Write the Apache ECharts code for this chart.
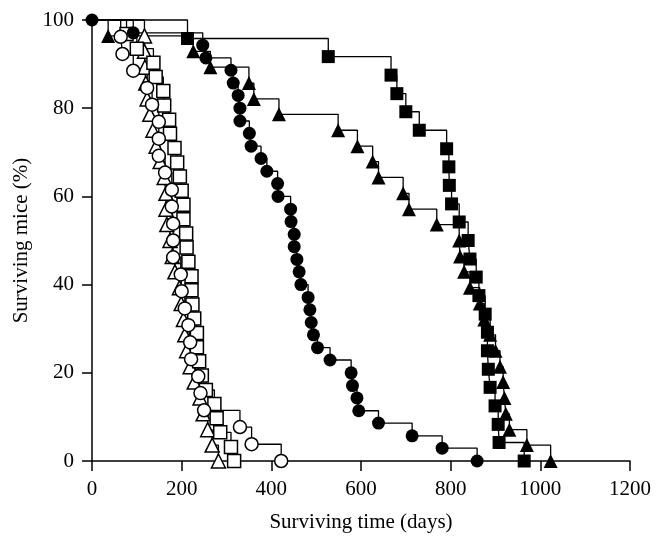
<!DOCTYPE html>
<html>
<head>
<meta charset="utf-8">
<script src="https://cdn.jsdelivr.net/npm/echarts@6/dist/echarts.min.js"></script>
<style>
  html, body { margin: 0; padding: 0; background: #fff; }
  #chart { width: 664px; height: 549px; }
</style>
</head>
<body>
<div id="chart"></div>
<script>
// surviving time (days) at each death, with survival (%) after it
var fsDays = [0, 213, 527, 667, 680, 700, 730, 791, 796, 797, 802, 819, 839, 843, 857, 863, 877, 882, 882, 884, 888, 899, 906, 908, 964];
var fsSurv = [100, 95.8, 91.7, 87.5, 83.3, 79.2, 75, 70.8, 66.7, 62.5, 58.3, 54.2, 50, 45.8, 41.7, 37.5, 33.3, 29.2, 25, 20.8, 16.7, 12.5, 8.3, 4.2, 0];

var fcDays = [0, 92, 247, 254, 310, 315, 326, 330, 330, 351, 355, 377, 390, 414, 415, 443, 444, 451, 451, 457, 462, 466, 482, 486, 489, 494, 503, 531, 578, 581, 591, 595, 639, 714, 781, 859];
var fcSurv = [100, 97.1, 94.3, 91.4, 88.6, 85.7, 82.9, 80, 77.1, 74.3, 71.4, 68.6, 65.7, 62.9, 60, 57.1, 54.3, 51.4, 48.6, 45.7, 42.9, 40, 37.1, 34.3, 31.4, 28.6, 25.7, 22.9, 20, 17.1, 14.3, 11.4, 8.6, 5.7, 2.9, 0];

var ftDays = [0, 36, 226, 264, 350, 361, 417, 549, 592, 626, 639, 694, 707, 769, 819, 821, 830, 843, 865, 875, 888, 900, 910, 917, 920, 923, 931, 970, 1023];
var ftSurv = [100, 96.4, 92.9, 89.3, 85.7, 82.1, 78.6, 75, 71.4, 67.9, 64.3, 60.7, 57.1, 53.6, 50, 46.4, 42.9, 39.3, 35.7, 32.1, 28.6, 25, 21.4, 17.9, 14.3, 10.7, 7.1, 3.6, 0];

var ocDays = [0, 64, 68, 92, 123, 134, 149, 149, 149, 163, 178, 178, 181, 181, 181, 198, 200, 207, 215, 219, 221, 237, 242, 250, 330, 356, 422];
var ocSurv = [100, 96.2, 92.3, 88.5, 84.6, 80.8, 76.9, 73.1, 69.2, 65.4, 61.5, 57.7, 53.8, 50, 46.2, 42.3, 38.5, 34.6, 30.8, 26.9, 23.1, 19.2, 15.4, 11.5, 7.7, 3.8, 0];

var osDays = [0, 77, 100, 137, 142, 159, 161, 172, 174, 184, 190, 196, 200, 204, 204, 210, 211, 215, 222, 222, 224, 228, 234, 234, 239, 245, 254, 273, 278, 286, 310, 317];
var osSurv = [100, 96.8, 93.5, 90.3, 87.1, 83.9, 80.6, 77.4, 74.2, 71, 67.7, 64.5, 61.3, 58.1, 54.8, 51.6, 48.4, 45.2, 41.9, 38.7, 35.5, 32.3, 29, 25.8, 22.6, 19.4, 16.1, 12.9, 9.7, 6.5, 3.2, 0];

var otDays = [0, 117, 117, 118, 120, 123, 129, 136, 143, 152, 161, 165, 165, 167, 174, 179, 185, 195, 199, 204, 207, 211, 219, 228, 241, 248, 258, 268, 282];
var otSurv = [100, 96.4, 92.9, 89.3, 85.7, 82.1, 78.6, 75, 71.4, 67.9, 64.3, 60.7, 57.1, 53.6, 50, 46.4, 42.9, 39.3, 35.7, 32.1, 28.6, 25, 21.4, 17.9, 14.3, 10.7, 7.1, 3.6, 0];

var xTicks = [0, 200, 400, 600, 800, 1000, 1200];
var yTicks = [0, 20, 40, 60, 80, 100];

// only the filled-circle group keeps a marker at the common start point
function pairs(xs, ys, markStart) {
  var out = [];
  for (var i = 0; i < xs.length; i++) {
    if (i === 0 && !markStart) out.push({ value: [xs[i], ys[i]], symbol: 'none' });
    else out.push([xs[i], ys[i]]);
  }
  return out;
}

function km(xs, ys, symbol, filled, markStart) {
  return {
    type: 'line',
    step: 'end',
    data: pairs(xs, ys, markStart),
    symbol: symbol,
    symbolSize: symbol === 'triangle' ? 14 : 13,
    showAllSymbol: true,
    clip: false,
    lineStyle: { color: '#000', width: 1.3 },
    itemStyle: {
      color: filled ? '#000' : '#fff',
      borderColor: '#000',
      borderWidth: filled ? 0 : 1.5,
      opacity: 1
    },
    emphasis: { disabled: true }
  };
}

var chart = echarts.init(document.getElementById('chart'));
var font = '"Liberation Serif", "DejaVu Serif", serif';
chart.setOption({
  animation: false,
  backgroundColor: '#fff',
  grid: { left: 92, right: 34, top: 20, bottom: 88 },
  xAxis: {
    type: 'value',
    min: xTicks[0],
    max: xTicks[xTicks.length - 1],
    interval: 200,
    name: 'Surviving time (days)',
    nameLocation: 'middle',
    nameGap: 51,
    nameTextStyle: { fontFamily: font, fontSize: 21, color: '#000' },
    axisLine: { lineStyle: { color: '#000', width: 1.5 } },
    axisTick: { length: 10, lineStyle: { color: '#000', width: 1.5 } },
    axisLabel: {
      fontFamily: font, fontSize: 21, color: '#000', margin: 18,
      formatter: function (v) { return String(v); }
    },
    splitLine: { show: false }
  },
  yAxis: {
    type: 'value',
    min: yTicks[0],
    max: yTicks[yTicks.length - 1],
    interval: 20,
    name: 'Surviving mice (%)',
    nameLocation: 'middle',
    nameGap: 48,
    nameRotate: 90,
    nameTextStyle: { fontFamily: font, fontSize: 21, color: '#000' },
    axisLine: { show: true, lineStyle: { color: '#000', width: 1.5 } },
    axisTick: { show: true, length: 10, lineStyle: { color: '#000', width: 1.5 } },
    axisLabel: { fontFamily: font, fontSize: 21, color: '#000', margin: 18 },
    splitLine: { show: false }
  },
  series: [
    km(otDays, otSurv, 'triangle', false, false),
    km(osDays, osSurv, 'rect', false, false),
    km(ocDays, ocSurv, 'circle', false, false),
    km(ftDays, ftSurv, 'triangle', true, false),
    km(fsDays, fsSurv, 'rect', true, false),
    km(fcDays, fcSurv, 'circle', true, true)
  ]
});
</script>
</body>
</html>
